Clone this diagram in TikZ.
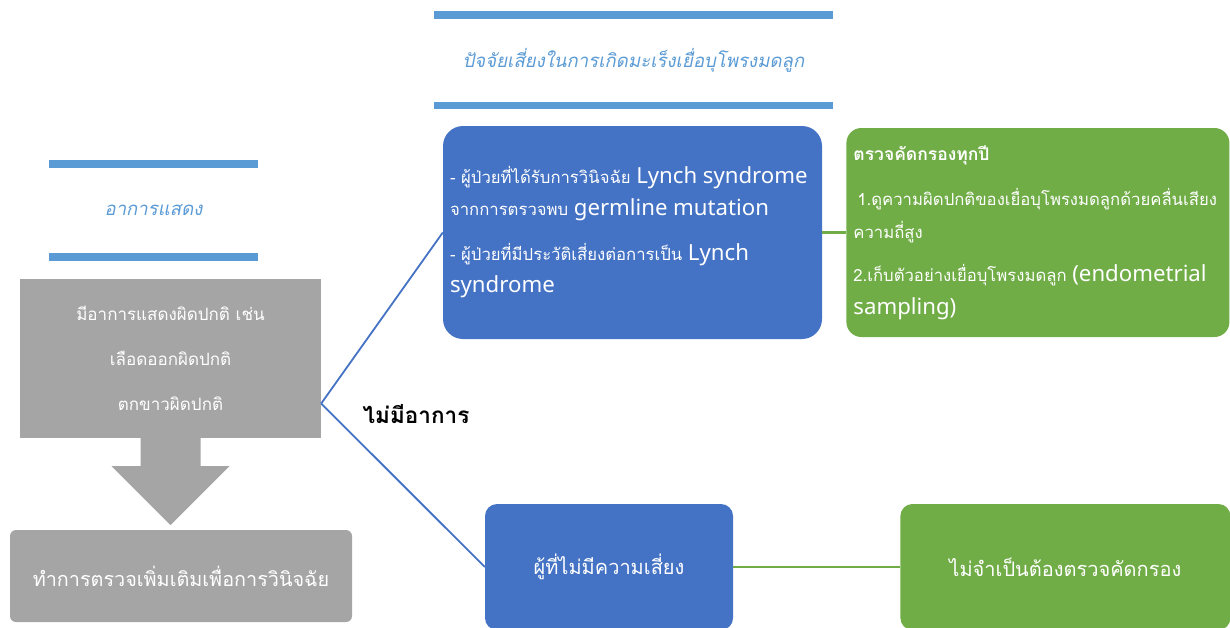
\documentclass[tikz,border=0pt]{standalone}
\usepackage{fontspec}
\usepackage{xcolor}
\usetikzlibrary{positioning,calc}
\newfontfamily\thaifont[Script=Thai,AutoFakeSlant=0.2]{Loma}
\newfontfamily\latinfont{Noto Sans}
\definecolor{boxblue}{HTML}{4472C4}
\definecolor{boxgreen}{HTML}{70AD47}
\definecolor{boxgray}{HTML}{A5A5A5}
\definecolor{headblue}{HTML}{5B9BD5}
\newcommand{\entxt}[1]{{\latinfont\fontsize{22.2}{32}\selectfont #1}}

\begin{document}
\begin{tikzpicture}[
    x=1pt, y=-1pt,
    box/.style={text=white, inner xsep=7pt, inner ysep=0pt},
    bluebox/.style={box, fill=boxblue},
    greenbox/.style={box, fill=boxgreen},
    graybox/.style={box, fill=boxgray},
    heading/.style={inner sep=0pt, text=headblue, font=\thaifont\itshape\fontsize{18.6}{24}\selectfont},
    headbar/.style={fill=headblue},
    blueline/.style={draw=boxblue, line width=1.8pt},
    greenline/.style={draw=boxgreen, line width=2.8pt}
]
\clip (0,0) rectangle (1230,627);

% headings with bars
\node[heading, minimum width=399pt, minimum height=98pt] (riskhead) at (633.5,60) {ปัจจัยเสี่ยงในการเกิดมะเร็งเยื่อบุโพรงมดลูก};
\fill[headbar] (riskhead.north west) rectangle ++(399,8);
\fill[headbar] (riskhead.south west) rectangle ++(399,-7);

\node[heading, minimum width=209pt, minimum height=101pt] (symhead) at (153.5,210.5) {อาการแสดง};
\fill[headbar] (symhead.north west) rectangle ++(209,8);
\fill[headbar] (symhead.south west) rectangle ++(209,-8);

% left column
\node[graybox, minimum width=301pt, minimum height=159pt, align=center,
      font=\thaifont\fontsize{17}{45}\selectfont] (symptom) at (170.5,358.5)
      {มีอาการแสดงผิดปกติ เช่น\\เลือดออกผิดปกติ\\ตกขาวผิดปกติ};
\node[graybox, rounded corners=6pt, minimum width=342pt, minimum height=92pt,
      font=\thaifont\fontsize{19.8}{26}\selectfont] (workup) at (181,576)
      {ทำการตรวจเพิ่มเติมเพื่อการวินิจฉัย};
\fill[boxgray] ($(symptom.south)+(-30,0)$) -- ++(60,0) -- ++(0,28) -- ++(29,0)
    -- ($(symptom.south)+(0,87)$) -- ($(symptom.south)+(-59,28)$) -- ($(symptom.south)+(-30,28)$) -- cycle;

% risk group
\node[bluebox, rounded corners=20pt, minimum width=379pt, minimum height=213pt,
      text width=365pt, align=left, font=\thaifont\fontsize{16.7}{32}\selectfont] (lynch) at (632.5,232.5)
      {- ผู้ป่วยที่ได้รับการวินิจฉัย \entxt{Lynch syndrome}\\
       จากการตรวจพบ \entxt{germline mutation}\\[13pt]
       - ผู้ป่วยที่มีประวัติเสี่ยงต่อการเป็น \entxt{Lynch}\\
       \entxt{syndrome}};
\node[greenbox, rounded corners=15pt, right=24pt of lynch, minimum width=383pt, minimum height=209pt,
      text width=369pt, align=left, font=\thaifont\fontsize{16.7}{33}\selectfont] (screen)
      {{\bfseries\fontsize{17.5}{33}\selectfont ตรวจคัดกรองทุกปี}\\[12pt]
       \hspace*{4pt}1.ดูความผิดปกติของเยื่อบุโพรงมดลูกด้วยคลื่นเสียง\\
       ความถี่สูง\\[10pt]
       2.เก็บตัวอย่างเยื่อบุโพรงมดลูก \entxt{(endometrial}\\
       \entxt{sampling)}};

% no risk group
\node[bluebox, rounded corners=12pt, minimum width=248pt, minimum height=126pt,
      font=\thaifont\fontsize{20}{24}\selectfont] (norisk) at (609,567) {ผู้ที่ไม่มีความเสี่ยง};
\node[greenbox, rounded corners=12pt, right=167pt of norisk, minimum width=330pt, minimum height=126pt,
      font=\thaifont\fontsize{20}{24}\selectfont] (noscreen) {ไม่จำเป็นต้องตรวจคัดกรอง};

% connectors
\coordinate (fork) at ([yshift=-45pt]symptom.east);
\draw[blueline] (fork) -- (lynch.west);
\draw[blueline] (fork) -- (norisk.west);
\draw[greenline] (lynch.east) -- (screen.west);
\draw[greenline] (norisk.east) -- (noscreen.west);
\node[font=\thaifont\bfseries\fontsize{22.5}{24}\selectfont] (asym) at (416,414) {ไม่มีอาการ};
\end{tikzpicture}
\end{document}
